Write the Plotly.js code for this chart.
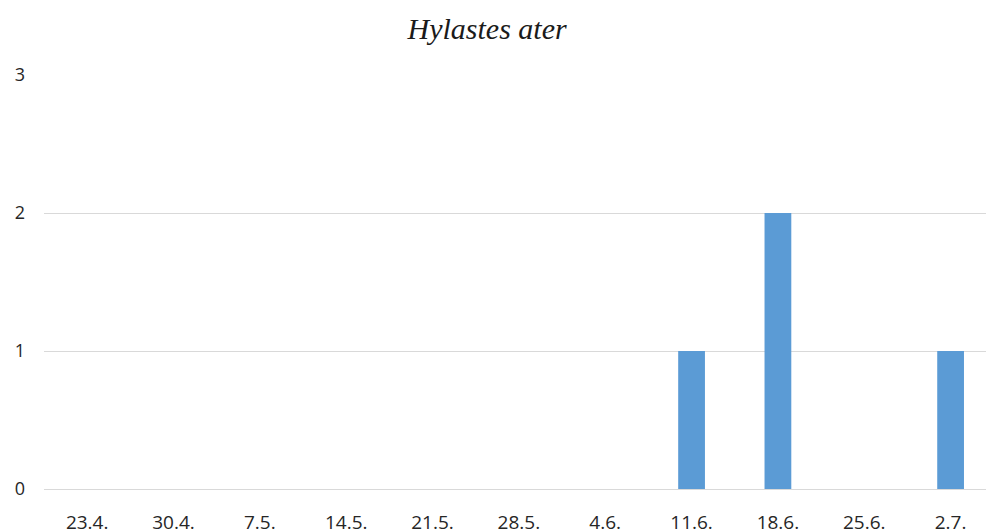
<!DOCTYPE html>
<html>
<head>
<meta charset="utf-8">
<script src="https://cdn.plot.ly/plotly-3.0.1.min.js"></script>
<style>html,body{margin:0;padding:0;background:#fff;overflow:hidden;}#chart{width:986px;height:532px;}</style>
</head>
<body>
<div id="chart"></div>
<script>
const categories = ["23.4.", "30.4.", "7.5.", "14.5.", "21.5.", "28.5.", "4.6.", "11.6.", "18.6.", "25.6.", "2.7."];
const counts = [0, 0, 0, 0, 0, 0, 0, 1, 2, 0, 1];
const yTicks = [0, 1, 2, 3];

const trace = {
  type: "bar",
  x: categories,
  y: counts,
  marker: {color: "#5b9bd5"},
  hoverinfo: "x+y"
};

const layout = {
  width: 986,
  height: 532,
  margin: {l: 44, r: 0, t: 75, b: 43},
  paper_bgcolor: "#ffffff",
  plot_bgcolor: "#ffffff",
  bargap: 0.69,
  showlegend: false,
  title: {
    text: "<i>Hylastes ater</i>",
    font: {family: "Liberation Serif, Times New Roman, serif", size: 30, color: "#1a1a1a"},
    x: 0.494, xanchor: "center",
    y: 0.947, yanchor: "middle"
  },
  xaxis: {
    type: "category",
    range: [-0.5, 10.41],
    showgrid: false,
    zeroline: false,
    showline: false,
    ticks: "",
    ticklabelstandoff: 20,
    tickfont: {family: "Open Sans, sans-serif", size: 19, color: "#262626"},
    fixedrange: true
  },
  yaxis: {
    range: [0, 3],
    tickvals: yTicks,
    ticktext: yTicks.map(String),
    showgrid: true,
    gridcolor: "#d9d9d9",
    gridwidth: 1,
    zeroline: true,
    zerolinecolor: "#d9d9d9",
    zerolinewidth: 1,
    showline: false,
    ticks: "",
    ticklabelstandoff: 18,
    tickfont: {family: "Open Sans, sans-serif", size: 18, color: "#262626"},
    fixedrange: true
  }
};

Plotly.newPlot("chart", [trace], layout, {displayModeBar: false, staticPlot: true});
</script>
</body>
</html>
